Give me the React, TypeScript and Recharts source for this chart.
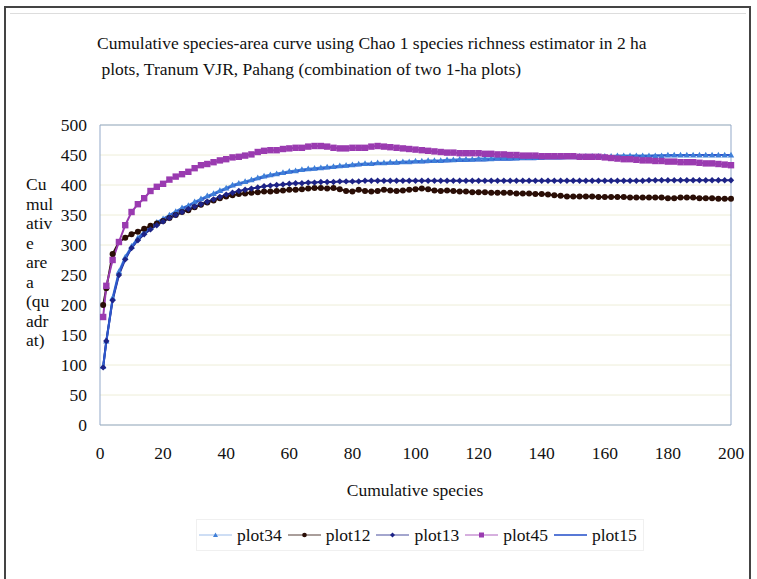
import React from 'react';
import { LineChart, Line, XAxis, YAxis, CartesianGrid, ReferenceArea } from 'recharts';

const xValues = [1, 2, 4, 6, 8, 10, 12, 14, 16, 18, 20, 22, 24, 26, 28, 30, 32, 34, 36, 38, 40, 42, 44, 46, 48, 50, 52, 54, 56, 58, 60, 62, 64, 66, 68, 70, 72, 74, 76, 78, 80, 82, 84, 86, 88, 90, 92, 94, 96, 98, 100, 102, 104, 106, 108, 110, 112, 114, 116, 118, 120, 122, 124, 126, 128, 130, 132, 134, 136, 138, 140, 142, 144, 146, 148, 150, 152, 154, 156, 158, 160, 162, 164, 166, 168, 170, 172, 174, 176, 178, 180, 182, 184, 186, 188, 190, 192, 194, 196, 198, 200];

const plot34 = [98, 140, 212, 256, 280, 298, 312, 322, 330, 338, 344, 350, 356, 362, 366, 372, 377, 382, 386, 391, 395, 400, 403, 406, 409, 412, 415, 417, 419, 421, 423, 424, 426, 427, 428, 429, 430, 431, 432, 433, 434, 435, 436, 436, 437, 437, 438, 438, 439, 439, 440, 440, 441, 441, 441, 442, 442, 443, 443, 443, 444, 444, 444, 445, 445, 445, 445, 446, 446, 446, 446, 447, 447, 447, 447, 447, 448, 448, 448, 448, 448, 448, 449, 449, 449, 449, 449, 449, 449, 449, 450, 450, 450, 450, 450, 450, 450, 450, 450, 450, 450];

const plot12 = [200, 228, 285, 305, 312, 318, 322, 327, 332, 336, 340, 345, 350, 355, 358, 363, 367, 371, 374, 378, 381, 383, 385, 386, 387, 388, 389, 389, 390, 391, 392, 392, 393, 394, 395, 395, 394, 395, 393, 390, 389, 392, 390, 389, 390, 392, 391, 390, 391, 392, 393, 394, 393, 391, 390, 391, 390, 389, 389, 388, 388, 388, 387, 387, 387, 387, 386, 386, 386, 385, 385, 384, 383, 382, 381, 381, 381, 381, 381, 380, 380, 380, 380, 380, 379, 379, 379, 379, 379, 379, 378, 378, 379, 379, 379, 378, 378, 378, 377, 377, 377];

const plot13 = [96, 140, 208, 250, 276, 295, 308, 318, 326, 333, 339, 345, 350, 355, 360, 364, 368, 372, 376, 380, 384, 387, 390, 392, 394, 396, 398, 399, 400, 401, 402, 403, 403, 404, 404, 405, 405, 405, 406, 406, 406, 406, 407, 407, 407, 407, 407, 407, 407, 407, 407, 407, 407, 407, 407, 407, 407, 407, 407, 407, 407, 407, 407, 407, 407, 407, 407, 407, 407, 407, 407, 407, 407, 407, 407, 407, 407, 407, 407, 407, 407, 407, 407, 407, 407, 407, 407, 408, 408, 408, 408, 408, 408, 408, 408, 408, 408, 408, 408, 408, 408];

const plot45 = [180, 232, 275, 305, 333, 355, 368, 378, 390, 397, 402, 409, 414, 418, 422, 428, 433, 435, 438, 441, 443, 446, 447, 449, 451, 455, 457, 458, 458, 460, 461, 462, 462, 464, 465, 465, 464, 462, 461, 461, 462, 462, 462, 464, 465, 464, 463, 462, 461, 460, 459, 458, 457, 456, 455, 454, 454, 453, 453, 453, 453, 452, 452, 451, 451, 450, 450, 449, 449, 449, 448, 448, 448, 448, 448, 448, 447, 447, 447, 447, 446, 445, 444, 443, 443, 442, 441, 441, 440, 440, 439, 439, 438, 438, 438, 437, 436, 436, 435, 434, 433];

const plot15 = [97, 138, 210, 253, 278, 296, 310, 320, 329, 337, 343, 349, 355, 360, 365, 370, 375, 380, 384, 389, 393, 398, 401, 404, 407, 410, 413, 415, 417, 419, 421, 422, 424, 425, 426, 427, 428, 429, 430, 431, 432, 433, 434, 434, 435, 435, 436, 436, 437, 437, 438, 438, 438, 439, 439, 439, 440, 440, 440, 441, 441, 441, 442, 442, 442, 442, 443, 443, 443, 443, 444, 444, 444, 444, 445, 445, 445, 446, 446, 446, 446, 447, 447, 447, 448, 448, 448, 448, 449, 449, 449, 449, 449, 450, 450, 450, 450, 450, 450, 450, 450];

const xTicks = [0, 20, 40, 60, 80, 100, 120, 140, 160, 180, 200];
const yTicks = [0, 50, 100, 150, 200, 250, 300, 350, 400, 450, 500];
const yLabelLines = ['Cu', 'mul', 'ativ', 'e', 'are', 'a', '(qu', 'adr', 'at)'];
const titleLines = ['Cumulative species-area curve using Chao 1 species richness estimator in 2 ha', ' plots, Tranum VJR, Pahang (combination of two 1-ha plots)'];

const series = [
  { key: 'plot34', color: '#3f7fd8', marker: 'triangle', values: plot34 },
  { key: 'plot12', color: '#2a0e06', marker: 'circle', values: plot12 },
  { key: 'plot13', color: '#1d2386', marker: 'diamond', values: plot13 },
  { key: 'plot45', color: '#9a3bb0', marker: 'square', values: plot45 },
  { key: 'plot15', color: '#2f58cc', marker: 'none', values: plot15 },
];

const data = xValues.map((x, i) => {
  const row: any = { x };
  series.forEach((s) => { row[s.key] = s.values[i]; });
  return row;
});

const FONT = '"Liberation Serif", "Times New Roman", serif';
const FS = 17.5;

function markerPath(type: string, cx: number, cy: number, r: number) {
  if (type === 'triangle') return `M${cx},${cy - r} L${cx + r},${cy + r * 0.8} L${cx - r},${cy + r * 0.8} Z`;
  if (type === 'diamond') return `M${cx},${cy - r} L${cx + r},${cy} L${cx},${cy + r} L${cx - r},${cy} Z`;
  if (type === 'square') return `M${cx - r},${cy - r} L${cx + r},${cy - r} L${cx + r},${cy + r} L${cx - r},${cy + r} Z`;
  return '';
}

function makeDot(type: string, color: string) {
  return (props: any) => {
    const { cx, cy, index } = props;
    if (cx == null || cy == null) return <g key={`d${index}`} />;
    if (type === 'circle') return <circle key={`d${index}`} cx={cx} cy={cy} r={3} fill={color} />;
    return <path key={`d${index}`} d={markerPath(type, cx, cy, 3.2)} fill={color} />;
  };
}

function LegendSymbol({ type, color }: { type: string; color: string }) {
  return (
    <svg width={33} height={12} style={{ display: 'block' }}>
      <line x1={0} y1={6} x2={33} y2={6} stroke={color} strokeWidth={type === 'none' ? 2 : 1} opacity={type === 'triangle' ? 0.5 : 0.8} />
      {type === 'circle' ? <circle cx={16.5} cy={6} r={2.3} fill={color} /> : type !== 'none' ? <path d={markerPath(type, 16.5, 6, 2.5)} fill={color} /> : null}
    </svg>
  );
}

export default function App() {
  return (
    <div style={{ position: 'absolute', left: 0, top: 0, width: 757, height: 579, background: '#fff', overflow: 'hidden', fontFamily: FONT }}>
      <div style={{ position: 'absolute', left: 4, top: 6, width: 747, height: 590, border: '2px solid #444', boxSizing: 'border-box' }} />
      <div style={{ position: 'absolute', left: 10, top: 13, width: 736, height: 1, background: '#ddd' }} />
      <div style={{ position: 'absolute', left: 97, top: 30, fontSize: FS, lineHeight: '26px', whiteSpace: 'pre', color: '#111' }}>
        {titleLines.map((t, i) => <div key={i}>{t}</div>)}
      </div>
      <div style={{ position: 'absolute', left: 26, top: 175, fontSize: FS, lineHeight: '19.5px', color: '#111' }}>
        {yLabelLines.map((t, i) => <div key={i}>{t}</div>)}
      </div>
      <div style={{ position: 'absolute', left: 0, width: 830, top: 480, textAlign: 'center', fontSize: FS, color: '#111' }}>Cumulative species</div>
      <LineChart width={757} height={579} data={data} margin={{ top: 125, right: 26, bottom: 124, left: 40 }} style={{ position: 'absolute', left: 0, top: 0 }}>
        <CartesianGrid horizontal vertical={false} stroke="#eeeed8" />
        <XAxis dataKey="x" type="number" domain={[0, 200]} ticks={xTicks} tickLine={false} axisLine={false} tickSize={0} tickMargin={22} height={30} interval={0}
          tick={{ fill: '#111', fontSize: FS, fontFamily: FONT }} />
        <YAxis type="number" domain={[0, 500]} ticks={yTicks} tickLine={false} axisLine={false} tickSize={0} tickMargin={13} width={60} interval={0}
          tick={{ fill: '#111', fontSize: FS, fontFamily: FONT }} />
        <ReferenceArea x1={0} x2={200} y1={0} y2={500} fill="none" stroke="#93a9c9" strokeWidth={1} />
        {series.map((s) => (
          <Line key={s.key} dataKey={s.key} type="linear" stroke={s.color} strokeWidth={2}
            dot={s.marker === 'none' ? false : makeDot(s.marker, s.color)} activeDot={false} isAnimationActive={false} />
        ))}
      </LineChart>
      <div style={{ position: 'absolute', left: 196, top: 519, width: 448, height: 32, border: '1px solid #f0f0f0', boxSizing: 'border-box', display: 'flex', alignItems: 'center', paddingLeft: 2, fontSize: FS, color: '#111' }}>
        {series.map((s) => (
          <div key={s.key} style={{ display: 'flex', alignItems: 'center', marginRight: 6 }}>
            <LegendSymbol type={s.marker} color={s.color} />
            <span style={{ marginLeft: 5 }}>{s.key}</span>
          </div>
        ))}
      </div>
    </div>
  );
}
